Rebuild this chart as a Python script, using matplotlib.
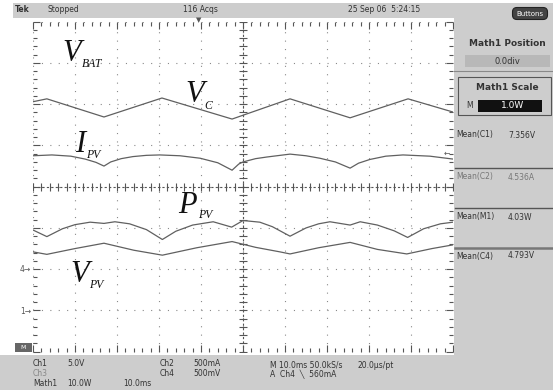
import numpy as np
import matplotlib
matplotlib.use("Agg")
import matplotlib.pyplot as plt
from matplotlib.patches import Rectangle, FancyBboxPatch

# screen positions in divisions (x: 0..10, y: -4..4)
vc_t = [0, 0.33, 1.69, 3.07, 4.74, 6.12, 7.55, 8.93, 10.0]
vc = [2.06, 2.13, 1.69, 2.15, 1.64, 2.13, 1.67, 2.13, 1.81]

ipv_t = [0, 0.45, 0.9, 1.24, 1.5, 1.69, 1.85, 2.1, 2.38, 2.7, 3.02, 3.5, 3.98, 4.4, 4.74,
         4.9, 5.0, 5.3, 5.57, 6.12, 6.5, 6.83, 7.2, 7.55, 7.75, 8.02, 8.4, 8.81, 9.45, 10.0]
ipv = [0.75, 0.77, 0.74, 0.67, 0.59, 0.50, 0.60, 0.68, 0.73, 0.76, 0.77, 0.75, 0.69, 0.58, 0.40,
       0.55, 0.60, 0.68, 0.72, 0.79, 0.75, 0.69, 0.60, 0.45, 0.57, 0.66, 0.74, 0.77, 0.74, 0.67]

ppv_t = [0, 0.33, 0.7, 1.0, 1.36, 1.69, 1.95, 2.3, 2.7, 3.08, 3.4, 3.8, 4.29, 4.73, 5.0,
         5.4, 5.7, 6.12, 6.5, 6.8, 7.07, 7.55, 7.79, 8.2, 8.6, 8.92, 9.3, 9.7, 10.0]
ppv = [-1.05, -1.21, -1.02, -0.92, -0.86, -0.89, -0.85, -0.90, -1.04, -1.28, -1.08, -0.93, -0.85, -0.98, -0.82,
       -0.86, -0.97, -1.20, -1.00, -0.90, -0.85, -0.93, -0.85, -0.93, -1.07, -1.23, -1.02, -0.90, -0.86]

vpv_t = [0, 0.33, 1.0, 1.69, 2.4, 3.08, 3.9, 4.74, 5.3, 5.88, 6.12, 6.8, 7.55, 8.2, 8.9, 9.5, 10.0]
vpv = [-1.58, -1.64, -1.50, -1.37, -1.54, -1.66, -1.48, -1.33, -1.47, -1.58, -1.63, -1.48, -1.35, -1.52, -1.63, -1.50, -1.41]

W, H = 553, 390
fig = plt.figure(figsize=(W / 100, H / 100), dpi=100)

# scope screen
ax = fig.add_axes([33 / W, 38.3 / H, 420 / W, 330 / H], zorder=1)
ax.set_xlim(0, 10)
ax.set_ylim(-4, 4)
ax.set_xticks(range(11))
ax.set_yticks(range(-4, 5))
ax.set_xticks(np.arange(0, 10.01, 0.2), minor=True)
ax.set_yticks(np.arange(-4, 4.01, 0.2), minor=True)
ax.tick_params(which='both', direction='in', top=True, right=True,
               labelbottom=False, labelleft=False, color='#555555', width=0.8)
ax.tick_params(which='major', length=5)
ax.tick_params(which='minor', length=3)
for s in ax.spines.values():
    s.set_visible(False)
ax.grid(which='major', color='#8a8a8a', linestyle=(0, (1, 6.56)), lw=0.8)

# center cross with ticks
ax.axvline(5, color='#555555', lw=0.8, linestyle=(0, (2, 2)))
ax.axhline(0, color='#555555', lw=0.8, linestyle=(0, (2, 2)))
ax.plot(np.full(41, 5.0), np.arange(-4, 4.01, 0.2), ls='none', marker='_', ms=6, mew=0.8, color='#555555')
ax.plot(np.arange(0, 10.01, 0.2), np.zeros(51), ls='none', marker='|', ms=6, mew=0.8, color='#555555')

trace = dict(color='#606060', lw=0.9)
ax.plot(vc_t, vc, **trace)
ax.plot(ipv_t, ipv, **trace)
ax.plot(ppv_t, ppv, **trace)
ax.plot(vpv_t, vpv, **trace)

# overlay in pixel coordinates for the UI
ui = fig.add_axes([0, 0, 1, 1], zorder=2)
ui.set_xlim(0, W)
ui.set_ylim(H, 0)
ui.axis('off')
ui.patch.set_alpha(0)

panel = '#cdcdcd'
txt = '#333333'
ui.add_patch(Rectangle((13, 3), W - 13, 15, color=panel, lw=0))
ui.add_patch(Rectangle((454, 3), W - 454, 352, color=panel, lw=0))
ui.add_patch(Rectangle((0, 355), W, 35, color=panel, lw=0))

small = dict(fontsize=5.5, color=txt, va='center', family='DejaVu Sans')
ui.text(15, 10, 'Tek', fontweight='bold', **small)
ui.text(47, 10, 'Stopped', **small)
ui.text(183, 10, '116 Acqs', **small)
ui.text(348, 10, '25 Sep 06  5:24:15', **small)
ui.add_patch(FancyBboxPatch((514, 9), 32, 9, boxstyle='round,pad=1.5,rounding_size=4.5',
                            fc='#444444', ec='#222222', lw=0.8))
ui.text(530, 13.5, 'Buttons', fontsize=5, color='white', ha='center', va='center')

# trigger marker
ui.text(199, 20, '\u25bc', fontsize=5, color='#555555', ha='center', va='center')

# right menu
ui.text(507, 43, 'Math1 Position', fontsize=6.5, fontweight='bold', color=txt, ha='center', va='center')
ui.add_patch(Rectangle((465, 55), 85, 12, color='#b8b8b8', lw=0))
ui.text(507, 61, '0.0div', fontsize=6, color=txt, ha='center', va='center')
ui.plot([454, W], [71, 71], color='#888888', lw=0.8)
ui.add_patch(Rectangle((458, 77), 93, 38, fill=False, ec='#555555', lw=0.8))
ui.text(507, 88, 'Math1 Scale', fontsize=6.5, fontweight='bold', color=txt, ha='center', va='center')
ui.add_patch(Rectangle((478, 100), 64, 12, color='#111111', lw=0))
ui.text(501, 106, '1.0W', fontsize=6.5, color='white', va='center')
ui.text(466, 106, 'M', fontsize=5.5, color=txt, va='center')
ui.text(456, 135, 'Mean(C1)', **small)
ui.text(508, 135, '7.356V', **small)
ui.plot([455, W], [168, 168], color='#555555', lw=1.0)
ui.text(456, 177, 'Mean(C2)', fontsize=5.5, color='#777777', va='center')
ui.text(508, 177, '4.536A', fontsize=5.5, color='#777777', va='center')
ui.plot([455, W], [208, 208], color='#555555', lw=1.0)
ui.text(456, 217, 'Mean(M1)', **small)
ui.text(508, 217, '4.03W', **small)
ui.plot([455, W], [248, 248], color='#777777', lw=1.8)
ui.text(456, 256, 'Mean(C4)', **small)
ui.text(508, 256, '4.793V', **small)

# bottom readout
ui.text(33, 364, 'Ch1', **small)
ui.text(67, 364, '5.0V', **small)
ui.text(160, 364, 'Ch2', **small)
ui.text(193, 364, '500mA', **small)
ui.text(33, 373, 'Ch3', fontsize=5.5, color='#888888', va='center')
ui.text(160, 373, 'Ch4', **small)
ui.text(193, 373, '500mV', **small)
ui.text(33, 384, 'Math1', **small)
ui.text(67, 384, '10.0W', **small)
ui.text(123, 384, '10.0ms', **small)
ui.text(270, 365, 'M 10.0ms 50.0kS/s', **small)
ui.text(358, 365, '20.0\u00b5s/pt', **small)
ui.text(270, 374, 'A  Ch4  \u2572  560mA', **small)

# channel ground markers
ui.text(20, 270, '4\u2192', fontsize=5.5, color='#555555', va='center')
ui.text(20, 312, '1\u2192', fontsize=5.5, color='#555555', va='center')
ui.text(444, 153, '\u2190', fontsize=5.5, color='#555555', va='center')
ui.add_patch(Rectangle((15, 343), 17, 9, color='#666666', lw=0))
ui.text(23.5, 347.5, 'M', fontsize=4.5, color='white', ha='center', va='center')

# waveform labels
big = dict(fontsize=22, style='italic', family='Liberation Serif', color='#111111', va='baseline')
sub = dict(fontsize=8.5, style='italic', family='Liberation Serif', color='#111111', va='baseline')
ui.text(62, 61, 'V', **big)
ui.text(82, 67, 'BAT', **sub)
ui.text(185, 102, 'V', **big)
ui.text(204, 109, 'C', **sub)
ui.text(75, 152, 'I', **big)
ui.text(86, 158, 'PV', **sub)
ui.text(178, 213, 'P', **big)
ui.text(198, 218, 'PV', **sub)
ui.text(70, 282, 'V', **big)
ui.text(89, 288, 'PV', **sub)

fig.savefig('out.png', dpi=100)
